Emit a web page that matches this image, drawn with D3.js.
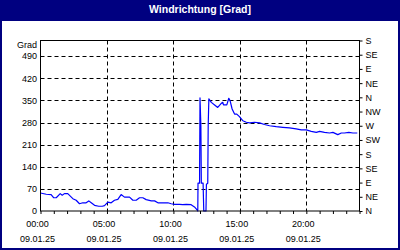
<!DOCTYPE html>
<html>
<head>
<meta charset="utf-8">
<script src="https://cdn.jsdelivr.net/npm/d3@7"></script>
<style>
html,body{margin:0;padding:0;background:#fff;}
svg{display:block;}
text{font-family:"Liberation Sans",Arial,sans-serif;}
</style>
</head>
<body>
<svg id="chart" width="400" height="250"></svg>
<script>
const title = "Windrichtung [Grad]";
const yUnit = "Grad";
const times = ["00:00","00:26","00:48","00:59","01:11","01:29","01:38","01:48","02:03","02:26","02:41","02:56","03:11","03:26","03:38","03:49","04:04","04:23","04:39","04:49","05:04","05:19","05:34","05:49","06:04","06:19","06:42","06:57","07:12","07:27","07:42","07:57","08:20","08:35","08:50","09:12","09:35","09:50","10:05","10:28","10:42","10:58","11:20","11:35","11:44","11:50","11:51","11:58","12:00","12:04","12:06","12:14","12:17","12:27","12:29","12:35","12:37","12:40","12:51","13:06","13:20","13:36","13:43","13:46","14:01","14:10","14:16","14:25","14:36","14:46","14:58","15:13","15:29","15:44","16:06","16:29","16:51","17:14","17:44","18:14","18:44","19:14","19:37","20:00","20:22","20:45","21:00","21:22","21:45","22:00","22:22","22:38","22:52","23:12","23:30","23:50"];
const values = [57,53,52,42,42,55,50,55,55,39,34,23,26,26,32,26,18,15,15,17,28,26,34,37,52,44,44,34,34,42,42,36,32,32,26,26,26,23,21,21,20,21,20,13,6,0,88,88,358,270,88,88,0,0,85,88,270,355,344,336,328,341,344,336,336,357,349,323,307,307,299,286,281,279,281,279,274,270,267,265,263,260,257,257,252,249,252,249,247,249,242,247,247,249,247,247];
const yTicks = [0,70,140,210,280,350,420,490];
const dirLabels = ["N","NE","E","SE","S","SW","W","NW","N","NE","E","SE","S"];
const dirValues = [0,45,90,135,180,225,270,315,360,405,450,495,540];
const xTickHours = [0,5,10,15,20];
const dateLabel = "09.01.25";

const svg = d3.select("#chart");
const W = 400, H = 250;
const navy = "#000080";
const L = 40.5, R = 359.5, T = 40.5, B = 211;

// frame and title bar
svg.append("rect").attr("x",0).attr("y",0).attr("width",W).attr("height",H).attr("fill",navy);
svg.append("rect").attr("x",2).attr("y",21).attr("width",W-4).attr("height",H-23).attr("fill","#fff");
svg.append("text").attr("x",W/2).attr("y",12.5).attr("text-anchor","middle")
  .attr("fill","#fff").attr("font-weight","bold").attr("font-size","10.5px").text(title);

const parse = s => { const [h,m] = s.split(":").map(Number); return h + m/60; };
const x = d3.scaleLinear().domain([0,24]).range([L,R]);
const y = d3.scaleLinear().domain([0,540]).range([B,T]);

// grid
const g = svg.append("g");
g.selectAll("line.hg").data(yTicks.filter(v=>v>0)).join("line")
  .attr("x1",L).attr("x2",R).attr("y1",d=>Math.round(y(d))+0.5).attr("y2",d=>Math.round(y(d))+0.5)
  .attr("stroke","#000").attr("stroke-width",1).attr("stroke-dasharray","4,3");
g.selectAll("line.vg").data(xTickHours.filter(v=>v>0)).join("line")
  .attr("x1",d=>Math.round(x(d))+0.5).attr("x2",d=>Math.round(x(d))+0.5).attr("y1",T).attr("y2",B)
  .attr("stroke","#000").attr("stroke-width",1).attr("stroke-dasharray","4,3");

// data line
const line = d3.line().x((d,i)=>x(parse(times[i]))).y(d=>y(d));
svg.append("path").datum(values).attr("d",line).attr("fill","none")
  .attr("stroke","#0000ff").attr("stroke-width",1.2).attr("stroke-linejoin","round");

// plot border
svg.append("rect").attr("x",L).attr("y",T).attr("width",R-L).attr("height",B-T)
  .attr("fill","none").attr("stroke","#000").attr("stroke-width",1);

// left axis labels
const fs = "9px";
svg.selectAll("text.yl").data(yTicks).join("text")
  .attr("x",37).attr("y",d=>y(d)).attr("dy","0.35em").attr("text-anchor","end")
  .attr("font-size",fs).attr("fill","#000").text(d=>d);
svg.append("text").attr("x",37).attr("y",45).attr("dy","0.35em").attr("text-anchor","end")
  .attr("font-size",fs).attr("fill","#000").text(yUnit);

// right axis
const rAxis = d3.axisRight(y).tickValues(dirValues).tickSize(3).tickFormat((d,i)=>dirLabels[i]);
const ra = svg.append("g").attr("transform",`translate(${R},0)`).call(rAxis);
ra.select(".domain").remove();
ra.selectAll("text").attr("font-size",fs).attr("font-family","Liberation Sans, Arial, sans-serif").attr("fill","#000").attr("x",6);

// bottom axis ticks (hourly)
const bAxis = d3.axisBottom(x).tickValues(d3.range(0,25)).tickSize(3).tickFormat("");
const ba = svg.append("g").attr("transform",`translate(0,${B})`).call(bAxis);
ba.select(".domain").remove();

// bottom labels
svg.selectAll("text.xl").data(xTickHours).join("text")
  .attr("x",d=>x(d)-3).attr("y",226.5).attr("text-anchor","middle")
  .attr("font-size",fs).attr("fill","#000").text(d=>String(d).padStart(2,"0")+":00");
svg.selectAll("text.xd").data(xTickHours).join("text")
  .attr("x",d=>x(d)-3).attr("y",242).attr("text-anchor","middle")
  .attr("font-size",fs).attr("fill","#000").text(dateLabel);
</script>
</body>
</html>
